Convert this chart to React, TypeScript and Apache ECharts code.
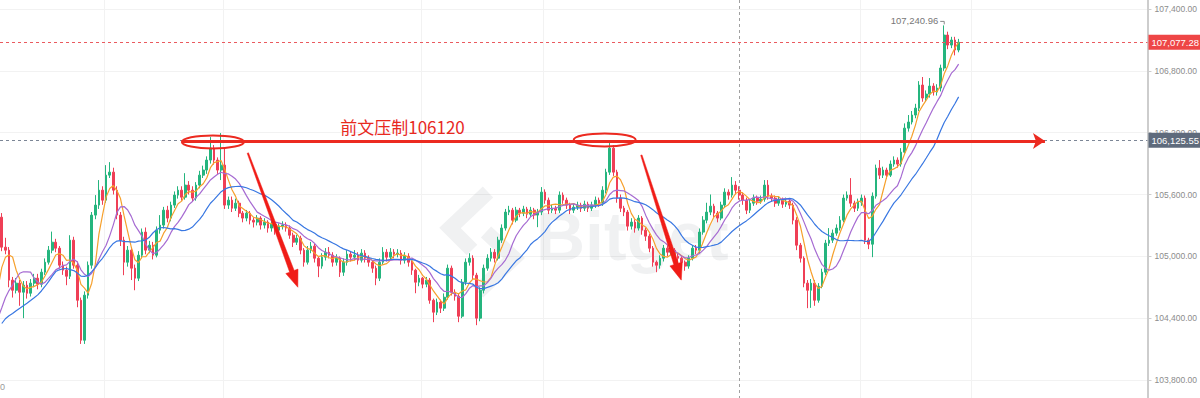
import React, { useEffect, useRef } from "react";
import * as echarts from "echarts";

// Candles before the visible window: they only feed the moving averages. [open, close, low, high]
const warmupCandles: number[][] = [
  [104100, 104137, 104060, 104180], [104137, 104186, 104110, 104220], [104186, 104235, 104150, 104270],
  [104235, 104206, 104170, 104280], [104206, 104167, 104120, 104240], [104167, 104225, 104140, 104260],
  [104225, 104186, 104150, 104250], [104186, 104206, 104160, 104240], [104206, 104245, 104180, 104290],
  [104245, 104167, 104130, 104270], [104167, 104089, 104040, 104190], [104089, 104069, 104020, 104120],
  [104069, 104128, 104040, 104160], [104128, 104108, 104070, 104170], [104108, 104147, 104080, 104190],
  [104147, 104574, 104130, 104600], [104574, 104652, 104540, 104700], [104652, 104769, 104620, 104810],
  [104769, 105380, 104750, 105420],
];

// Visible candles: [open, close, low, high]
const candles: number[][] = [
  [105380,105089,105050,105420],[105089,105060,105020,105180],[105060,104769,104700,105090],[104769,104671,104600,104800],[104671,104740,104640,104790],
  [104740,104652,104520,104770],[104652,104720,104400,104760],[104720,104642,104590,104760],[104642,104740,104610,104780],[104740,104788,104700,104830],
  [104788,104730,104680,104830],[104730,104846,104700,104880],[104846,104943,104820,104980],[104943,105060,104920,105100],[105060,105137,105030,105240],
  [105137,105079,105040,105170],[105079,104914,104880,105100],[104914,104866,104820,104950],[104866,104807,104720,104900],[104807,105157,104780,105205],
  [105157,104914,104880,105190],[104914,104574,104506,104950],[104574,104186,104150,104600],[104186,104623,104150,104660],[104623,104914,104590,104950],
  [104914,105400,104880,105430],[105400,105497,105360,105594],[105497,105642,105460,105740],[105642,105545,105500,105680],[105545,105788,105520,105885],
  [105788,105817,105760,105914],[105817,105642,105600,105860],[105642,105400,105360,105680],[105400,105157,105100,105430],[105157,104943,104817,105190],
  [104943,105060,104900,105100],[105060,104885,104770,105090],[104885,104788,104671,104920],[104788,105011,104760,105050],[105011,105235,104980,105270],
  [105235,105060,105020,105280],[105060,105108,105030,105150],[105108,105011,104970,105140],[105011,105254,104990,105290],[105254,105303,105220,105400],
  [105303,105448,105270,105480],[105448,105371,105330,105490],[105371,105497,105340,105530],[105497,105594,105470,105630],[105594,105642,105560,105680],
  [105642,105574,105540,105680],[105574,105691,105550,105807],[105691,105642,105600,105730],[105642,105565,105530,105680],[105565,105691,105540,105720],
  [105691,105788,105660,105830],[105788,105837,105760,105880],[105837,105934,105800,105970],[105934,106050,105900,106157],[106050,105934,105890,106080],
  [105934,105837,105800,105960],[105837,105885,105740,106196],[105885,105497,105460,106050],[105497,105545,105460,105580],[105545,105467,105430,105580],
  [105467,105516,105440,105560],[105516,105419,105380,105540],[105419,105371,105330,105440],[105371,105419,105340,105450],[105419,105351,105310,105440],
  [105351,105332,105280,105380],[105332,105371,105300,105400],[105371,105303,105260,105390],[105303,105332,105270,105370],[105332,105274,105230,105350],
  [105274,105312,105240,105350],[105312,105254,105210,105340],[105254,105293,105220,105320],[105293,105303,105260,105340],[105303,105274,105240,105330],
  [105274,105205,105170,105300],[105205,105137,105090,105230],[105137,105176,105110,105210],[105176,105060,105020,105200],[105060,104943,104900,105080],
  [104943,105060,104920,105100],[105060,105099,105030,105140],[105099,104982,104940,105120],[104982,104905,104798,105000],[104905,104992,104880,105030],
  [104992,105040,104960,105080],[105040,105011,104980,105090],[105011,104943,104900,105040],[104943,104982,104910,105020],[104982,104846,104800,105000],
  [104846,104943,104810,104980],[104943,105021,104910,105060],[105021,104992,104950,105050],[104992,105011,104960,105060],[105011,104963,104920,105040],
  [104963,105031,104940,105070],[105031,104982,104940,105060],[104982,104943,104900,105010],[104943,104885,104840,104960],[104885,104788,104720,104910],
  [104788,104943,104760,104980],[104943,105040,104920,105089],[105040,104992,104950,105070],[104992,105040,104960,105080],[105040,105021,104980,105070],
  [105021,105031,104990,105070],[105031,104963,104920,105060],[104963,105001,104930,105040],[105001,104943,104900,105030],[104943,104866,104820,104960],
  [104866,104749,104642,104880],[104749,104788,104710,104820],[104788,104730,104690,104800],[104730,104769,104700,104800],[104769,104574,104540,104790],
  [104574,104458,104361,104590],[104458,104555,104430,104590],[104555,104497,104450,104580],[104497,104603,104470,104640],[104603,104885,104580,104920],
  [104885,104652,104620,104910],[104652,104613,104570,104680],[104613,104419,104361,104640],[104419,104749,104400,104780],[104749,104943,104720,104980],
  [104943,104982,104910,105030],[104982,104817,104780,105010],[104817,104400,104332,104840],[104400,104671,104370,104700],[104671,104885,104640,104920],
  [104885,104982,104860,105020],[104982,105040,104950,105080],[105040,104982,104940,105070],[104982,105157,104960,105190],[105157,105274,105130,105310],
  [105274,105429,105250,105460],[105429,105448,105400,105490],[105448,105351,105310,105470],[105351,105448,105330,105480],[105448,105419,105380,105470],
  [105419,105458,105390,105490],[105458,105409,105370,105480],[105409,105448,105380,105480],[105448,105400,105360,105470],[105400,105429,105283,105460],
  [105429,105623,105400,105672],[105623,105545,105510,105650],[105545,105448,105410,105570],[105448,105467,105420,105500],[105467,105448,105410,105490],
  [105448,105594,105420,105630],[105594,105545,105510,105620],[105545,105497,105460,105570],[105497,105448,105410,105520],[105448,105477,105420,105510],
  [105477,105497,105450,105530],[105497,105467,105430,105520],[105467,105506,105440,105540],[105506,105467,105430,105530],[105467,105497,105440,105530],
  [105497,105545,105470,105580],[105545,105516,105480,105570],[105516,105642,105490,105680],[105642,105817,105610,105850],[105817,106050,105790,106099],
  [106050,105817,105780,106080],[105817,105565,105520,105840],[105565,105467,105430,105600],[105467,105429,105390,105490],[105429,105293,105250,105450],
  [105293,105332,105260,105370],[105332,105274,105230,105360],[105274,105371,105250,105400],[105371,105254,105210,105390],[105254,105196,105150,105280],
  [105196,105079,105040,105220],[105079,104943,104900,105100],[104943,104914,104846,104960],[104914,104982,104880,105010],[104982,105079,104950,105110],
  [105079,105040,105000,105110],[105040,105060,105010,105090],[105060,105001,104960,105080],[105001,104982,104940,105030],[104982,104943,104900,105010],
  [104943,104905,104860,104960],[104905,104982,104880,105010],[104982,105079,104960,105110],[105079,105060,105020,105110],[105060,105235,105030,105270],
  [105235,105351,105210,105390],[105351,105429,105320,105520],[105429,105487,105400,105600],[105487,105419,105380,105510],[105419,105371,105330,105440],
  [105371,105497,105350,105530],[105497,105623,105470,105660],[105623,105594,105550,105650],[105594,105691,105570,105769],[105691,105642,105600,105730],
  [105642,105594,105550,105680],[105594,105545,105500,105620],[105545,105448,105410,105570],[105448,105516,105420,105550],[105516,105565,105490,105600],
  [105565,105535,105500,105590],[105535,105555,105510,105590],[105555,105691,105530,105740],[105691,105584,105550,105740],[105584,105565,105530,105610],
  [105565,105516,105480,105590],[105516,105545,105490,105580],[105545,105506,105470,105570],[105506,105535,105480,105570],[105535,105497,105460,105560],
  [105497,105351,105310,105520],[105351,105108,105060,105380],[105108,104982,104940,105130],[104982,104740,104700,105000],[104740,104671,104497,104770],
  [104671,104740,104500,104780],[104740,104574,104520,104770],[104574,104710,104550,104740],[104710,104846,104690,104880],[104846,105128,104820,105160],
  [105128,105157,105100,105274],[105157,105225,105130,105260],[105225,105274,105200,105310],[105274,105351,105250,105390],[105351,105565,105330,105600],
  [105565,105594,105540,105630],[105594,105516,105480,105759],[105516,105467,105430,105540],[105467,105526,105440,105560],[105526,105565,105490,105600],
  [105565,105157,105120,105590],[105157,105118,105070,105180],[105118,105584,104992,105620],[105584,105856,105560,105890],[105856,105788,105750,105934],
  [105788,105837,105760,105870],[105837,105788,105750,105860],[105788,105895,105770,105930],[105895,105934,105870,105970],[105934,105895,105860,105960],
  [105895,106011,105870,106050],[106011,106244,105990,106290],[106244,106303,106210,106371],[106303,106371,106280,106410],[106371,106438,106340,106480],
  [106438,106662,106410,106700],[106662,106536,106500,106740],[106536,106574,106500,106610],[106574,106652,106540,106730],[106652,106594,106560,106680],
  [106594,106633,106560,106670],[106633,106827,106600,106860],[106827,107147,106800,107240.96],[107147,107050,107010,107180],[107050,107099,107020,107130],
  [107099,107002,106950,107130],[107002,107077.28,106980,107110],
];

const emptySlots = 52; // free space right of the last candle
const maPeriods = [5, 10, 20];
const maColors = ["#f6a02c", "#a66bd2", "#3877e2"];
const yMin = 103800;
const yMax = 107400;
const yStep = 600;
const lastPrice = 107077.28;
const markedPrice = 106125.55;
const sessionHigh = 107240.96;
const sessionHighIndex = 262;
const crosshairIndex = 205;
const gridLineIndices = [29, 62, 117, 151, 239, 270];
const resistancePrice = 106120;
const resistanceText = "前文压制106120";
const resistanceSpan = [50, 290];
const ellipseCenters = [[58.7, 106110], [167.6, 106130]];
const arrowStarts = [[68.4, 106002], [177.8, 105982]];
const arrowTips = [[82.3, 104700], [188.9, 104769]];
const textAnchor = [111.4, 106264];

const UP = "#25b57e";
const DOWN = "#ef3f56";
const MARK_RED = "#ec2a20";
const AXIS_GREY = "#cdcdcd";
const WATERMARK = "rgba(40,50,70,0.07)";

const fmt = (v: number) => {
  const [i, d] = v.toFixed(2).split(".");
  return i.replace(/\B(?=(\d{3})+(?!\d))/g, ",") + "." + d;
};

function arrowPolygon(s: number[], t: number[]) {
  const dx = t[0] - s[0];
  const dy = t[1] - s[1];
  const len = Math.hypot(dx, dy);
  const ux = dx / len, uy = dy / len;
  const nx = -uy, ny = ux;
  const H = 17, W = 6.5, w0 = 0.7, w1 = 2.4;
  const nk = [t[0] - ux * H, t[1] - uy * H];
  return [
    [s[0] + nx * w0, s[1] + ny * w0],
    [nk[0] + nx * w1, nk[1] + ny * w1],
    [nk[0] + nx * W, nk[1] + ny * W],
    [t[0], t[1]],
    [nk[0] - nx * W, nk[1] - ny * W],
    [nk[0] - nx * w1, nk[1] - ny * w1],
    [s[0] - nx * w0, s[1] - ny * w0],
  ];
}

export default function App() {
  const ref = useRef<HTMLDivElement>(null);

  useEffect(() => {
    if (!ref.current) return;
    const chart = echarts.init(ref.current, null, { renderer: "svg" });
    const all = [...warmupCandles, ...candles];
    const offset = warmupCandles.length;
    const total = all.length + emptySlots;
    const cats = Array.from({ length: total }, (_, i) => String(i));
    const closes = all.map((c) => c[1]);
    const movingAverage = (p: number) =>
      closes.map((_, i) => {
        if (i < p - 1) return "-";
        let s = 0;
        for (let k = i - p + 1; k <= i; k++) s += closes[k];
        return +(s / p).toFixed(2);
      });

    chart.setOption({
      animation: false,
      backgroundColor: "#ffffff",
      grid: { left: 0, right: 52, top: 9, bottom: 18 },
      xAxis: {
        type: "category",
        data: cats,
        boundaryGap: true,
        axisLine: { show: false },
        axisTick: { show: false },
        axisLabel: { show: false },
        splitLine: { show: false },
      },
      yAxis: {
        type: "value",
        position: "right",
        min: yMin,
        max: yMax,
        interval: yStep,
        axisLine: { show: false },
        axisTick: { show: true, length: 4, lineStyle: { color: AXIS_GREY } },
        axisLabel: {
          color: "#8c8c8c",
          fontSize: 8.5,
          fontFamily: "Liberation Sans",
          margin: 7,
          formatter: (v: number) => fmt(v),
        },
        splitLine: { lineStyle: { color: "#f2f2f2" } },
      },
      dataZoom: [
        {
          type: "inside",
          xAxisIndex: 0,
          startValue: offset,
          endValue: total - 1,
          filterMode: "none",
          zoomLock: true,
          zoomOnMouseWheel: false,
          moveOnMouseMove: false,
          moveOnMouseWheel: false,
        },
      ],
      series: [
        {
          type: "candlestick",
          data: all,
          barWidth: 2.2,
          clip: true,
          itemStyle: { color: UP, color0: DOWN, borderColor: UP, borderColor0: DOWN, borderWidth: 1 },
          markLine: {
            silent: true,
            animation: false,
            symbol: ["none", "none"],
            emphasis: { disabled: true },
            data: [
              {
                yAxis: lastPrice,
                lineStyle: { color: "#ea5a5f", type: [3, 3], width: 1 },
                label: {
                  show: true, position: "end", distance: 1, formatter: fmt(lastPrice),
                  backgroundColor: "#ee4646", color: "#ffffff", fontSize: 9.5,
                  fontFamily: "Liberation Sans", padding: [3, 2, 2, 3],
                },
              },
              {
                yAxis: markedPrice,
                lineStyle: { color: "#7c8696", type: [3, 3], width: 1 },
                label: {
                  show: true, position: "end", distance: 1, formatter: fmt(markedPrice),
                  backgroundColor: "#5f6b7c", color: "#ffffff", fontSize: 9.5,
                  fontFamily: "Liberation Sans", padding: [3, 2, 2, 3],
                },
              },
              [
                {
                  coord: [String(offset + resistanceSpan[0]), resistancePrice],
                  symbol: "none",
                  lineStyle: { color: MARK_RED, width: 3, type: "solid" },
                  label: { show: false },
                },
                {
                  coord: [String(offset + resistanceSpan[1]), resistancePrice],
                  symbol: "arrow",
                  symbolSize: 12,
                  lineStyle: { color: MARK_RED, width: 3, type: "solid" },
                  label: { show: false },
                },
              ],
            ],
          },
        },
        ...maPeriods.map((p, k) => ({
          type: "line",
          name: "MA" + p,
          data: movingAverage(p),
          showSymbol: false,
          symbol: "none",
          clip: true,
          z: 3,
          lineStyle: { color: maColors[k], width: 1.2 },
          emphasis: { disabled: true },
        })),
      ],
    });

    const px = (i: number, price: number) => {
      const i0 = Math.floor(i);
      const f = i - i0;
      const a = chart.convertToPixel({ gridIndex: 0 }, [String(offset + i0), price]) as number[];
      const b = chart.convertToPixel({ gridIndex: 0 }, [String(offset + i0 + 1), price]) as number[];
      return [a[0] + (b[0] - a[0]) * f, a[1]];
    };
    const H = chart.getHeight();
    const axisX = chart.getWidth() - 52;

    const elements: any[] = [];
    // vertical grid lines (band boundaries), full height
    gridLineIndices.forEach((g) => {
      const x = Math.round(px(g - 0.5, yMin)[0]) + 0.5;
      elements.push({
        type: "line", z: 0, silent: true,
        shape: { x1: x, y1: 0, x2: x, y2: H },
        style: { stroke: "#f2f2f2", lineWidth: 1 },
      });
    });
    // watermark
    elements.push({
      type: "polyline", z: 0, silent: true,
      shape: { points: [[488, 192], [450, 228], [472, 250]] },
      style: { stroke: WATERMARK, lineWidth: 15, fill: "none" },
    });
    elements.push({
      type: "polyline", z: 0, silent: true,
      shape: { points: [[486, 232], [514, 258], [478, 292]] },
      style: { stroke: WATERMARK, lineWidth: 15, fill: "none" },
    });
    elements.push({
      type: "text", z: 0, silent: true, x: 536, y: 236,
      style: {
        text: "Bitget", fontSize: 68, fontWeight: "bold", fontFamily: "Liberation Sans",
        fill: WATERMARK, verticalAlign: "middle",
      },
    });
    // price axis line, full height
    elements.push({
      type: "line", z: 1, silent: true,
      shape: { x1: axisX, y1: 0, x2: axisX, y2: H },
      style: { stroke: AXIS_GREY, lineWidth: 2 },
    });
    // crosshair, full height
    const cx0 = Math.round(px(crosshairIndex, yMin)[0]) + 0.5;
    elements.push({
      type: "line", z: 1, silent: true,
      shape: { x1: cx0, y1: 0, x2: cx0, y2: H },
      style: { stroke: "#a0a0a0", lineWidth: 1, lineDash: [3, 3] },
    });

    // ellipses
    ellipseCenters.forEach(([i, p]) => {
      const [cx, cy] = px(i, p);
      elements.push({
        type: "ellipse", z: 100, silent: true,
        shape: { cx, cy, rx: 31, ry: 6.5 },
        style: { fill: "none", stroke: MARK_RED, lineWidth: 2 },
      });
    });
    // arrows
    arrowStarts.forEach((s, k) => {
      const a = px(s[0], s[1]);
      const b = px(arrowTips[k][0], arrowTips[k][1]);
      elements.push({
        type: "polygon", z: 100, silent: true,
        shape: { points: arrowPolygon(a, b) },
        style: { fill: "#f01c17", stroke: "#f01c17", lineWidth: 0.5 },
      });
    });
    // annotation text
    const [tx, ty] = px(textAnchor[0], textAnchor[1]);
    elements.push({
      type: "text", z: 100, x: tx, y: ty,
      style: {
        text: resistanceText, fontSize: 17, fontFamily: "Noto Sans CJK SC",
        fill: "#e8291f", align: "center", verticalAlign: "middle",
      },
    });
    // session high marker
    const [hx, hy] = px(sessionHighIndex, sessionHigh);
    elements.push({
      type: "text", z: 100, x: hx - 6, y: hy - 5,
      style: {
        text: fmt(sessionHigh), fontSize: 9.5, fontFamily: "Liberation Sans",
        fill: "#777777", align: "right", verticalAlign: "middle",
      },
    });
    elements.push({
      type: "polyline", z: 100, silent: true,
      shape: { points: [[hx - 4, hy - 4], [hx, hy - 4], [hx, hy - 1]] },
      style: { stroke: "#888888", lineWidth: 1, fill: "none" },
    });
    // cut-off label at the bottom-left corner
    elements.push({
      type: "text", z: 100, x: 0, y: 387,
      style: { text: "0", fontSize: 9, fontFamily: "Liberation Sans", fill: "#999999", verticalAlign: "middle" },
    });

    chart.setOption({ graphic: { elements } });

    return () => chart.dispose();
  }, []);

  return (
    <div
      ref={ref}
      style={{ position: "fixed", left: 0, top: 0, width: 1200, height: 398, background: "#fff" }}
    />
  );
}
